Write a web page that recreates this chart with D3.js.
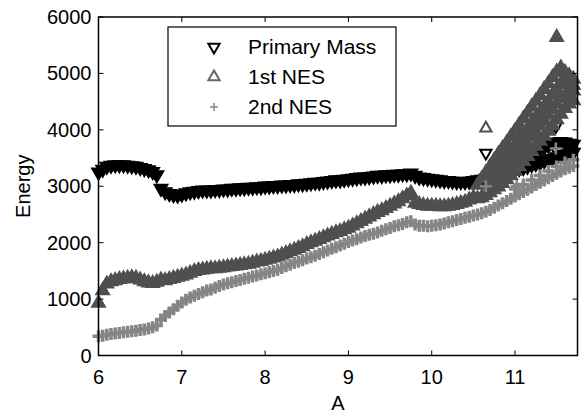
<!DOCTYPE html>
<html>
<head>
<meta charset="utf-8">
<script src="https://cdn.jsdelivr.net/npm/d3@7"></script>
<style>
  body { margin: 0; background: #fff; }
  text { font-family: "Liberation Sans", Arial, sans-serif; }
</style>
</head>
<body>
<div id="chart"></div>
<script>
// A values shared by the three main curves
const aMain = [6.00, 6.05, 6.10, 6.15, 6.20, 6.25, 6.30, 6.35, 6.40, 6.45,
  6.50, 6.55, 6.60, 6.65, 6.70, 6.75, 6.80, 6.85, 6.90, 6.95,
  7.00, 7.05, 7.10, 7.15, 7.20, 7.25, 7.30, 7.35, 7.40, 7.45,
  7.50, 7.55, 7.60, 7.65, 7.70, 7.75, 7.80, 7.85, 7.90, 7.95,
  8.00, 8.05, 8.10, 8.15, 8.20, 8.25, 8.30, 8.35, 8.40, 8.45,
  8.50, 8.55, 8.60, 8.65, 8.70, 8.75, 8.80, 8.85, 8.90, 8.95,
  9.00, 9.05, 9.10, 9.15, 9.20, 9.25, 9.30, 9.35, 9.40, 9.45,
  9.50, 9.55, 9.60, 9.65, 9.70, 9.75, 9.80, 9.85, 9.90, 9.95,
  10.00, 10.05, 10.10, 10.15, 10.20, 10.25, 10.30, 10.35, 10.40, 10.45, 10.50];

const massMain = [3250, 3300, 3350, 3370, 3380, 3380, 3380, 3370, 3360, 3350,
  3330, 3310, 3290, 3260, 3200, 2960, 2900, 2870, 2850, 2840,
  2860, 2880, 2900, 2910, 2920, 2930, 2930, 2930, 2940, 2940,
  2950, 2950, 2960, 2960, 2970, 2970, 2980, 2980, 2990, 2990,
  3000, 3000, 3010, 3010, 3020, 3020, 3030, 3030, 3040, 3040,
  3050, 3060, 3070, 3070, 3080, 3090, 3100, 3110, 3110, 3120,
  3130, 3140, 3150, 3160, 3160, 3170, 3180, 3190, 3190, 3200,
  3200, 3210, 3210, 3220, 3220, 3230, 3190, 3160, 3150, 3140,
  3130, 3120, 3110, 3100, 3100, 3090, 3080, 3080, 3080, 3090, 3100];

const nes1Main = [930, 1150, 1270, 1310, 1330, 1350, 1360, 1370, 1380, 1370,
  1340, 1310, 1290, 1280, 1300, 1340, 1330, 1350, 1370, 1390,
  1410, 1430, 1460, 1490, 1510, 1520, 1530, 1540, 1540, 1550,
  1560, 1570, 1580, 1590, 1600, 1610, 1620, 1640, 1660, 1670,
  1690, 1710, 1730, 1750, 1780, 1810, 1840, 1870, 1900, 1930,
  1970, 2000, 2030, 2060, 2090, 2120, 2150, 2180, 2200, 2230,
  2260, 2300, 2340, 2380, 2420, 2460, 2500, 2540, 2570, 2610,
  2650, 2690, 2730, 2780, 2830, 2880, 2700, 2680, 2660, 2650,
  2650, 2650, 2640, 2640, 2650, 2660, 2680, 2700, 2720, 2760, 2800];

const nes2Main = [340, 350, 370, 380, 390, 400, 410, 420, 430, 440,
  450, 460, 480, 500, 530, 640, 700, 760, 820, 880,
  940, 990, 1030, 1060, 1090, 1120, 1150, 1170, 1200, 1230,
  1260, 1280, 1300, 1320, 1340, 1360, 1380, 1400, 1420, 1440,
  1460, 1480, 1500, 1520, 1550, 1580, 1610, 1640, 1660, 1690,
  1720, 1740, 1770, 1800, 1830, 1860, 1890, 1920, 1950, 1980,
  2010, 2040, 2060, 2090, 2120, 2140, 2160, 2180, 2210, 2240,
  2260, 2290, 2310, 2330, 2360, 2380, 2320, 2300, 2300, 2290,
  2300, 2310, 2320, 2340, 2360, 2380, 2400, 2420, 2440, 2460, 2480];

// A values past 10.5, where the curves split and scatter
const aTail = [10.55, 10.60, 10.65, 10.70, 10.75, 10.80, 10.85, 10.90, 10.95, 11.00,
  11.05, 11.10, 11.15, 11.20, 11.25, 11.30, 11.35, 11.40, 11.45, 11.50,
  11.55, 11.60, 11.65, 11.70];
const aTailLate = [11.10, 11.15, 11.20, 11.25, 11.30, 11.35, 11.40, 11.45, 11.50,
  11.55, 11.60, 11.65, 11.70];
const aTailMid = [10.70, 10.75, 10.80, 10.85, 10.90, 10.95, 11.00,
  11.05, 11.10, 11.15, 11.20, 11.25, 11.30, 11.35, 11.40, 11.45, 11.50,
  11.55, 11.60, 11.65, 11.70];
const aTailEnd = [11.00, 11.10, 11.20, 11.30, 11.40, 11.50, 11.60, 11.70];

const massTailLow = [3110, 3120, 3140, 3150, 3170, 3190, 3210, 3230, 3260, 3290,
  3310, 3330, 3350, 3380, 3400, 3420, 3450, 3470, 3490, 3520,
  3540, 3560, 3580, 3600];
const massTailHigh = [3500, 3540, 3580, 3610, 3650, 3690, 3720, 3760, 3780,
  3790, 3780, 3760, 3740];

const nes1TailLow = [2780, 2800, 2840, 2890, 2940, 2990, 3050, 3120, 3190, 3270,
  3350, 3440, 3530, 3620, 3710, 3800, 3890, 3980, 4080, 4180,
  4280, 4380, 4460, 4520];
const nes1TailHigh = [3020, 3130, 3240, 3350, 3460, 3570, 3670, 3770, 3880, 3980,
  4090, 4200, 4300, 4410, 4510, 4610, 4720, 4820, 4930, 5030,
  5100, 5020, 4960, 4900];
const nes1TailMidA = [3050, 3120, 3190, 3260, 3340, 3420, 3510,
  3600, 3690, 3780, 3880, 3970, 4070, 4160, 4260, 4360, 4460,
  4560, 4600, 4650, 4690];
const nes1TailMidB = [3180, 3260, 3350, 3440, 3530, 3630, 3720,
  3820, 3920, 4020, 4120, 4220, 4310, 4410, 4510, 4620, 4720,
  4820, 4800, 4800, 4790];

const nes2Tail = [2500, 2520, 2550, 2580, 2620, 2660, 2700, 2740, 2780, 2820,
  2860, 2900, 2940, 2980, 3020, 3060, 3100, 3140, 3180, 3220,
  3260, 3300, 3330, 3360];
const nes2TailUpper = [2950, 3030, 3110, 3190, 3270, 3350, 3420, 3470];

// isolated points
const massOutA = [10.65, 11.49], massOut = [3590, 4060];
const nes1OutA = [10.65, 11.02], nes1Out = [4030, 3990];
const nes1SoloA = [11.50], nes1Solo = [5640];
const nes2OutA = [10.65, 11.02, 11.49], nes2Out = [3000, 3000, 3670];

const seriesNames = ["Primary Mass", "1st NES", "2nd NES"];
const xTicks = [6, 7, 8, 9, 10, 11];
const yTicks = [0, 1000, 2000, 3000, 4000, 5000, 6000];

const W = 584, H = 413;
const margin = { top: 17, right: 6.5, bottom: 57.5, left: 98.5 },
      width = W - margin.left - margin.right,
      height = H - margin.top - margin.bottom;

const colMass = "#000000", colN1 = "#4f4f4f", colN2 = "#858585";

const svg = d3.select("#chart").append("svg")
    .attr("width", W).attr("height", H)
    .append("g")
    .attr("transform", `translate(${margin.left},${margin.top})`);

const x = d3.scaleLinear().domain([6, 11.75]).range([0, width]);
const y = d3.scaleLinear().domain([0, 6000]).range([height, 0]);

const zip = (as, es) => as.map((a, i) => ({ a, e: es[i] }));

const triUp = d3.symbol().type(d3.symbolTriangle).size(80)();
const triUpSmall = d3.symbol().type(d3.symbolTriangle).size(55)();
const plus = "M-6,0H6M0,-6V6";

const plot = svg.append("g");

function drawTri(data, color, down, filled, path) {
  plot.append("g").selectAll("path")
    .data(data)
    .join("path")
    .attr("d", path || triUp)
    .attr("transform", d => `translate(${x(d.a)},${y(d.e)})${down ? " rotate(180)" : ""}`)
    .attr("fill", filled ? color : "none")
    .attr("stroke", color)
    .attr("stroke-width", filled ? 1.5 : 2);
}

function drawPlus(data, color, sw) {
  plot.append("g").selectAll("path")
    .data(data)
    .join("path")
    .attr("d", plus)
    .attr("transform", d => `translate(${x(d.a)},${y(d.e)})`)
    .attr("fill", "none")
    .attr("stroke", color)
    .attr("stroke-width", sw);
}

// Primary Mass
drawTri(zip(aMain, massMain), colMass, true, true);
drawTri(zip(aTail, massTailLow), colMass, true, true);
drawTri(zip(aTailLate, massTailHigh), colMass, true, true);
drawTri(zip(massOutA, massOut), colMass, true, false, triUpSmall);

// 1st NES
drawTri(zip(aMain, nes1Main), colN1, false, true);
drawTri(zip(aTail, nes1TailLow), colN1, false, true);
drawTri(zip(aTailMid, nes1TailMidA), colN1, false, true);
drawTri(zip(aTailMid, nes1TailMidB), colN1, false, true);
drawTri(zip(aTail, nes1TailHigh), colN1, false, true);
drawTri(zip(nes1SoloA, nes1Solo), colN1, false, true);
drawTri(zip(nes1OutA, nes1Out), colN1, false, false, triUpSmall);

// 2nd NES
drawPlus(zip(aMain, nes2Main), colN2, 3.5);
drawPlus(zip(aTail, nes2Tail), colN2, 3.5);
drawPlus(zip(aTailEnd, nes2TailUpper), colN2, 3.5);
drawPlus(zip(nes2OutA, nes2Out), colN2, 2.5);

// axes box, ticks pointing inward on all sides
const ax = svg.append("g").attr("font-size", 20);
ax.append("rect")
  .attr("x", 0).attr("y", 0).attr("width", width).attr("height", height)
  .attr("fill", "none").attr("stroke", "#000").attr("stroke-width", 1.5);

const tl = 5;
xTicks.forEach(t => {
  ax.append("line").attr("x1", x(t)).attr("x2", x(t)).attr("y1", height).attr("y2", height - tl)
    .attr("stroke", "#000").attr("stroke-width", 1);
  ax.append("line").attr("x1", x(t)).attr("x2", x(t)).attr("y1", 0).attr("y2", tl)
    .attr("stroke", "#000").attr("stroke-width", 1);
  ax.append("text").attr("x", x(t)).attr("y", height + 28)
    .attr("text-anchor", "middle").text(t);
});
yTicks.forEach(t => {
  ax.append("line").attr("x1", 0).attr("x2", tl).attr("y1", y(t)).attr("y2", y(t))
    .attr("stroke", "#000").attr("stroke-width", 1);
  ax.append("line").attr("x1", width).attr("x2", width - tl).attr("y1", y(t)).attr("y2", y(t))
    .attr("stroke", "#000").attr("stroke-width", 1);
  ax.append("text").attr("x", -7).attr("y", y(t)).attr("dy", "0.35em")
    .attr("text-anchor", "end").text(t);
});

ax.append("text").attr("x", width / 2).attr("y", height + 54)
  .attr("text-anchor", "middle").text("A");
ax.append("text")
  .attr("transform", `translate(${-69},${height / 2}) rotate(-90)`)
  .attr("text-anchor", "middle").text("Energy");

// legend
const lg = svg.append("g").attr("transform", `translate(${168 - margin.left},${27 - margin.top})`);
lg.append("rect").attr("width", 228).attr("height", 99)
  .attr("fill", "#fff").attr("stroke", "#000").attr("stroke-width", 1.2);
const legendMarks = [
  { color: colMass, kind: "down" },
  { color: "#666", kind: "up" },
  { color: colN2, kind: "plus" }
];
seriesNames.forEach((name, i) => {
  const row = lg.append("g").attr("transform", `translate(46,${20 + i * 30})`);
  const m = legendMarks[i];
  if (m.kind === "plus") {
    row.append("path").attr("d", "M-4,0H4M0,-4V4").attr("stroke", m.color).attr("stroke-width", 1.5);
  } else {
    row.append("path").attr("d", triUpSmall)
      .attr("transform", m.kind === "down" ? "rotate(180)" : null)
      .attr("fill", "none").attr("stroke", m.color).attr("stroke-width", 2);
  }
  row.append("text").attr("x", 34).attr("dy", "0.35em").attr("font-size", 21).text(name);
});
</script>
</body>
</html>
